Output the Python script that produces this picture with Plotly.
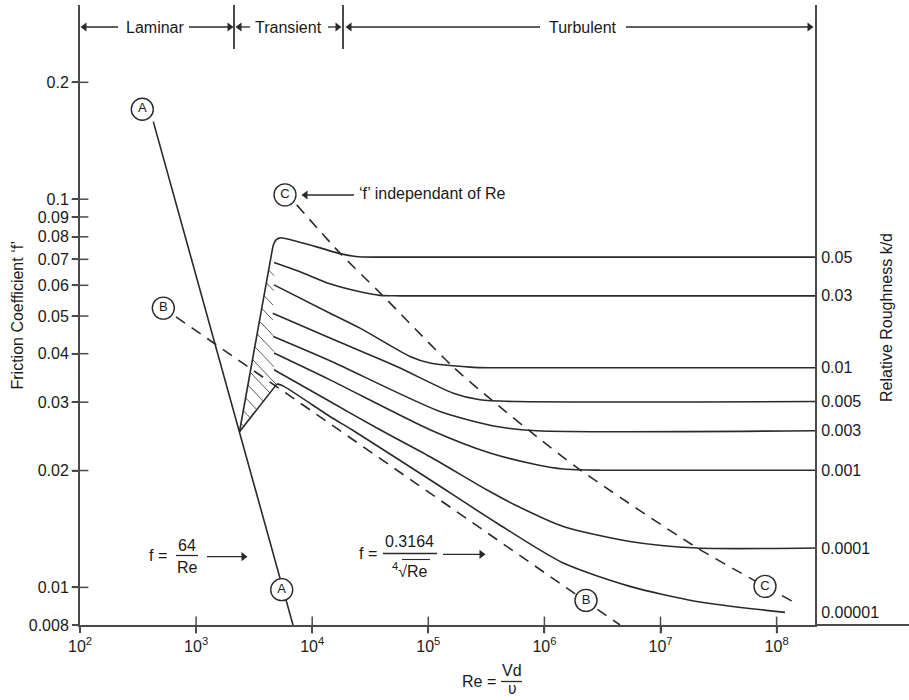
import numpy as np
import plotly.graph_objects as go

# ---------------- data ----------------
roughness_labels = ["0.05", "0.03", "0.01", "0.005", "0.003", "0.001", "0.0001", "0.00001"]
regime_names = ["Laminar", "Transient", "Turbulent"]
regime_bounds_re = [1e2, 2120, 18420, 2.141e8]

x_tick_vals = [1e2, 1e3, 1e4, 1e5, 1e6, 1e7, 1e8]
x_tick_text = ["10<sup>2</sup>", "10<sup>3</sup>", "10<sup>4</sup>", "10<sup>5</sup>",
               "10<sup>6</sup>", "10<sup>7</sup>", "10<sup>8</sup>"]
y_tick_vals = [0.008, 0.01, 0.02, 0.03, 0.04, 0.05, 0.06, 0.07, 0.08, 0.09, 0.1, 0.2]
y_tick_text = ["0.008", "0.01", "0.02", "0.03", "0.04", "0.05", "0.06", "0.07", "0.08", "0.09", "0.1", "0.2"]

# transient region branches
trans_upper_re = [2364, 4596]
trans_upper_f = [0.02517, 0.07583]
trans_lower_re = [2364, 4974]
trans_lower_f = [0.02517, 0.03344]

# roughness curves (Re, f)
re_k1 = [4596, 4876, 5333, 7398, 11675, 17355, 23840, 34740, 2.141e8]
f_k1 = [0.07583, 0.07857, 0.07952, 0.07778, 0.07492, 0.0724, 0.0712, 0.0709, 0.0709]
re_k2 = [4688, 7852, 14233, 25806, 38371, 57040, 2.141e8]
f_k2 = [0.06867, 0.0650, 0.06052, 0.05772, 0.05653, 0.05636, 0.05636]
re_k3 = [4688, 14233, 25806, 69560, 1.034e5, 2.287e5, 3.399e5, 2.141e8]
f_k3 = [0.06017, 0.05085, 0.04655, 0.03934, 0.03783, 0.03694, 0.03679, 0.03679]
re_k4 = [4568, 14233, 53440, 1.642e5, 2.788e5, 5.773e5, 2.141e8]
f_k4 = [0.05085, 0.04387, 0.03707, 0.03164, 0.03042, 0.03011, 0.03011]
re_k5 = [4624, 14233, 1.261e5, 3.882e5, 8.585e5, 2.141e8]
f_k5 = [0.04428, 0.03835, 0.02838, 0.02597, 0.02532, 0.02532]
re_k6 = [4688, 14233, 1.034e5, 3.399e5, 8.585e5, 1.455e6, 3.012e6, 2.141e8]
f_k6 = [0.04014, 0.03424, 0.02547, 0.02218, 0.0207, 0.02018, 0.02004, 0.02004]
re_k7 = [4688, 14233, 38371, 1.034e5, 3.184e5, 5.773e5, 1.455e6, 5.462e6, 2.05e7, 2.141e8]
f_k7 = [0.03635, 0.03011, 0.02547, 0.0217, 0.01785, 0.01623, 0.01435, 0.01313, 0.01263, 0.01263]
re_k8 = [4974, 5604, 14233, 22016, 1.034e5, 3.882e5, 1.455e6, 5.462e6, 2.05e7, 1.181e8]
f_k8 = [0.03344, 0.03304, 0.02755, 0.02547, 0.01893, 0.01465, 0.01155, 0.01006, 0.0092, 0.00862]

# reference lines
line_a_re = [428, 6833]
line_a_f = [0.1584, 0.008]
line_b_re = [671, 4.48e6]
line_b_f = [0.04977, 0.008]
line_c_re = [7355, 17355, 38371, 1.632e5, 3.754e5, 8.636e5, 2.026e6, 2.062e7, 1.44e8]
line_c_f = [0.09668, 0.07261, 0.05739, 0.037, 0.02988, 0.02443, 0.02009, 0.01265, 0.00913]

# circled letters
circle_text = ["A", "A", "B", "B", "C", "C"]
circle_re = [344, 5462, 522, 2.282e6, 5832, 7.943e7]
circle_f = [0.1705, 0.009865, 0.05241, 0.009258, 0.1026, 0.01006]

# regime bar heights (f)
regime_tick_f = [0.3164, 0.2438]

# ---------------- styling / layout ----------------
W, H = 909, 700
L_M, R_M, T_M, B_M = 80, 94, 5, 75
PW, PH = W - L_M - R_M, H - T_M - B_M
X0, X1 = 2.0, 8.3307
Y0, Y1 = np.log10(0.008), -0.49974
LINE = "#2a2a2a"
AXC = "#4a4a4a"
TXT = "#1a1a1a"
FONT = "Liberation Sans, Arial, sans-serif"


def px(x):
    return (x - L_M) / PW


def py(y):
    return (H - B_M - y) / PH


def to_re(xp):
    return 10 ** (X0 + (xp - L_M) / PW * (X1 - X0))


def to_f(yp):
    return 10 ** (Y1 - (yp - T_M) / PH * (Y1 - Y0))


curves = [(re_k1, f_k1), (re_k2, f_k2), (re_k3, f_k3), (re_k4, f_k4),
          (re_k5, f_k5), (re_k6, f_k6), (re_k7, f_k7), (re_k8, f_k8)]

fig = go.Figure()

# hatching in the transient zone (between the left branch and the curve starts)
kx = PW / (X1 - X0)
ky = PH / (Y1 - Y0)
V = np.array([np.log10(trans_upper_re[0]), np.log10(trans_upper_f[0])])
T = np.array([np.log10(trans_upper_re[1]), np.log10(trans_upper_f[1])])
bound = [(c[0][0], c[1][0]) for c in curves[1:7]] + [(trans_lower_re[1], trans_lower_f[1]),
                                                     (trans_lower_re[0], trans_lower_f[0])]
R = np.log10(np.array(bound))
d = np.array([1.0 / kx, -1.05 / ky])
hx, hy = [], []
for t in np.linspace(0.045, 0.87, 13):
    P = V + t * (T - V)
    best = None
    for A, B in zip(R[:-1], R[1:]):
        M = np.array([d, A - B]).T
        if abs(np.linalg.det(M)) < 1e-12:
            continue
        s, u = np.linalg.solve(M, A - P)
        if s > 0 and -1e-9 <= u <= 1 + 1e-9:
            best = s if best is None else min(best, s)
    if best is not None:
        Q = P + best * d
        hx += [10 ** P[0], 10 ** Q[0], None]
        hy += [10 ** P[1], 10 ** Q[1], None]
fig.add_trace(go.Scatter(x=hx, y=hy, mode="lines", line=dict(color="#5a5a5a", width=1),
                         hoverinfo="skip"))

# transient branches
fig.add_trace(go.Scatter(x=trans_upper_re, y=trans_upper_f, mode="lines",
                         line=dict(color=LINE, width=1.6), hoverinfo="skip"))
fig.add_trace(go.Scatter(x=trans_lower_re, y=trans_lower_f, mode="lines",
                         line=dict(color=LINE, width=1.6), hoverinfo="skip"))

# roughness curves
for (rx, fy), lab in zip(curves, roughness_labels):
    fig.add_trace(go.Scatter(x=rx, y=fy, mode="lines", name=lab,
                             line=dict(color=LINE, width=1.6, shape="spline", smoothing=0.7),
                             hoverinfo="skip"))

# A, B, C lines
fig.add_trace(go.Scatter(x=line_a_re, y=line_a_f, mode="lines",
                         line=dict(color=LINE, width=1.6), hoverinfo="skip"))
fig.add_trace(go.Scatter(x=line_b_re, y=line_b_f, mode="lines",
                         line=dict(color=LINE, width=1.6, dash="11px,8px"), hoverinfo="skip"))
fig.add_trace(go.Scatter(x=line_c_re, y=line_c_f, mode="lines",
                         line=dict(color=LINE, width=1.6, dash="11px,8px", shape="spline", smoothing=0.7),
                         hoverinfo="skip"))

# regime boundary ticks at top
for rb in regime_bounds_re[1:3]:
    fig.add_trace(go.Scatter(x=[rb, rb], y=regime_tick_f, mode="lines",
                             line=dict(color=AXC, width=2), hoverinfo="skip", cliponaxis=False))

# circled letters
fig.add_trace(go.Scatter(x=circle_re, y=circle_f, mode="markers+text", text=circle_text,
                         textposition="middle center", textfont=dict(size=13, color=TXT, family=FONT),
                         marker=dict(symbol="circle", size=22, color="white",
                                     line=dict(color=LINE, width=1.4)),
                         hoverinfo="skip", cliponaxis=False))

# cross ticks (inner halves)
fig.add_trace(go.Scatter(x=[x_tick_vals[0]] * (len(y_tick_vals) - 1), y=y_tick_vals[1:], mode="markers",
                         marker=dict(symbol="line-ew", size=12, line=dict(color=AXC, width=1.5)),
                         hoverinfo="skip", cliponaxis=False))
fig.add_trace(go.Scatter(x=x_tick_vals[1:], y=[y_tick_vals[0]] * (len(x_tick_vals) - 1), mode="markers",
                         marker=dict(symbol="line-ns", size=12, line=dict(color=AXC, width=1.5)),
                         hoverinfo="skip", cliponaxis=False))

# right axis labels carrier
end_f = [c[1][-1] for c in curves]
fig.add_trace(go.Scatter(x=[regime_bounds_re[-1]] * len(end_f), y=end_f, yaxis="y2", mode="markers",
                         marker=dict(opacity=0), hoverinfo="skip"))

annotations = []
shapes = []
head_x, head_y, head_sym = [], [], []


def text(xp, yp, s, size=16, anchor="center", angle=0, yanchor="middle", family=FONT):
    annotations.append(dict(xref="paper", yref="paper", x=px(xp), y=py(yp), text=s, showarrow=False,
                            xanchor=anchor, yanchor=yanchor, textangle=angle,
                            font=dict(size=size, color=TXT, family=family)))


def hline(x0, x1, y, w=1.3, col=LINE):
    shapes.append(dict(type="line", xref="paper", yref="paper", x0=px(x0), x1=px(x1), y0=py(y), y1=py(y),
                       line=dict(color=col, width=w)))


def arrow(hx_, hy_, tx_, ty_):
    direction = 1 if hx_ > tx_ else -1
    hline(tx_, hx_ - direction * 4, hy_)
    head_x.append(to_re(hx_ - direction * 3.5))
    head_y.append(to_f(hy_))
    head_sym.append("triangle-right" if direction > 0 else "triangle-left")


# regime bar
text(155, 27, regime_names[0])
text(288, 27, regime_names[1])
text(583, 27, regime_names[2])
arrow(81, 27, 118, 27)
arrow(233, 27, 189, 27)
arrow(236, 27, 250, 27)
arrow(341, 27, 328, 27)
arrow(346, 27, 540, 27)
arrow(813, 27, 626, 27)

# C note
text(357, 194, "‘f’ independant of Re", anchor="left")
arrow(302, 195, 354, 195)

# f = 64/Re
text(157.5, 555, "f =")
text(187, 545, "64")
text(187, 567, "Re")
hline(176, 198, 555.5)
arrow(247, 556.7, 207, 556.7)

# f = 0.3164 / 4th root Re
text(368, 553.5, "f =")
text(409.5, 541.5, "0.3164")
text(409.5, 569.5, "<sup>4</sup>√Re")
hline(383, 437, 553.5)
hline(402, 430, 559.5, w=1.1)
arrow(485, 554.3, 443, 554.3)

# x title
text(479, 681, "Re =")
text(512, 680.5, "Vd", yanchor="bottom")
text(512.5, 700, "υ", size=15, yanchor="bottom", family="DejaVu Sans")
hline(501, 522, 681.5)

# y titles
text(17, 315.5, "Friction Coefficient ‘f’", angle=-90)
text(886, 318, "Relative Roughness k/d", angle=-90)

# arrow heads
fig.add_trace(go.Scatter(x=head_x, y=head_y, mode="markers",
                         marker=dict(symbol=head_sym, size=8, color=LINE, line=dict(width=0)),
                         hoverinfo="skip", cliponaxis=False))

# bottom axis line extending past the right axis
shapes.append(dict(type="line", xref="paper", yref="paper", x0=1, x1=px(W), y0=0, y1=0,
                   line=dict(color=AXC, width=2)))

fig.update_layout(
    width=W, height=H,
    margin=dict(l=L_M, r=R_M, t=T_M, b=B_M),
    paper_bgcolor="white", plot_bgcolor="white",
    showlegend=False,
    hovermode=False,
    font=dict(family=FONT, size=16, color=TXT),
    xaxis=dict(type="log", range=[X0, X1], tickvals=x_tick_vals, ticktext=x_tick_text,
               ticks="outside", ticklen=6, tickwidth=1.5, tickcolor=AXC,
               showline=True, linecolor=AXC, linewidth=2, showgrid=False, zeroline=False,
               tickfont=dict(size=16, color=TXT, family=FONT)),
    yaxis=dict(type="log", range=[Y0, Y1], tickvals=y_tick_vals, ticktext=y_tick_text,
               ticks="outside", ticklen=6, tickwidth=1.5, tickcolor=AXC,
               showline=True, linecolor=AXC, linewidth=2, showgrid=False, zeroline=False,
               tickfont=dict(size=16, color=TXT, family=FONT)),
    yaxis2=dict(type="log", range=[Y0, Y1], overlaying="y", side="right", anchor="x",
                tickvals=end_f, ticktext=roughness_labels, ticks="outside", ticklen=1,
                tickcolor="rgba(0,0,0,0)", showline=True, linecolor=AXC, linewidth=2,
                showgrid=False, zeroline=False, tickfont=dict(size=16, color=TXT, family=FONT)),
    annotations=annotations,
    shapes=shapes,
)

fig.write_html("out.html", config={"displayModeBar": False},
               post_script="document.body.style.margin='0px';")
